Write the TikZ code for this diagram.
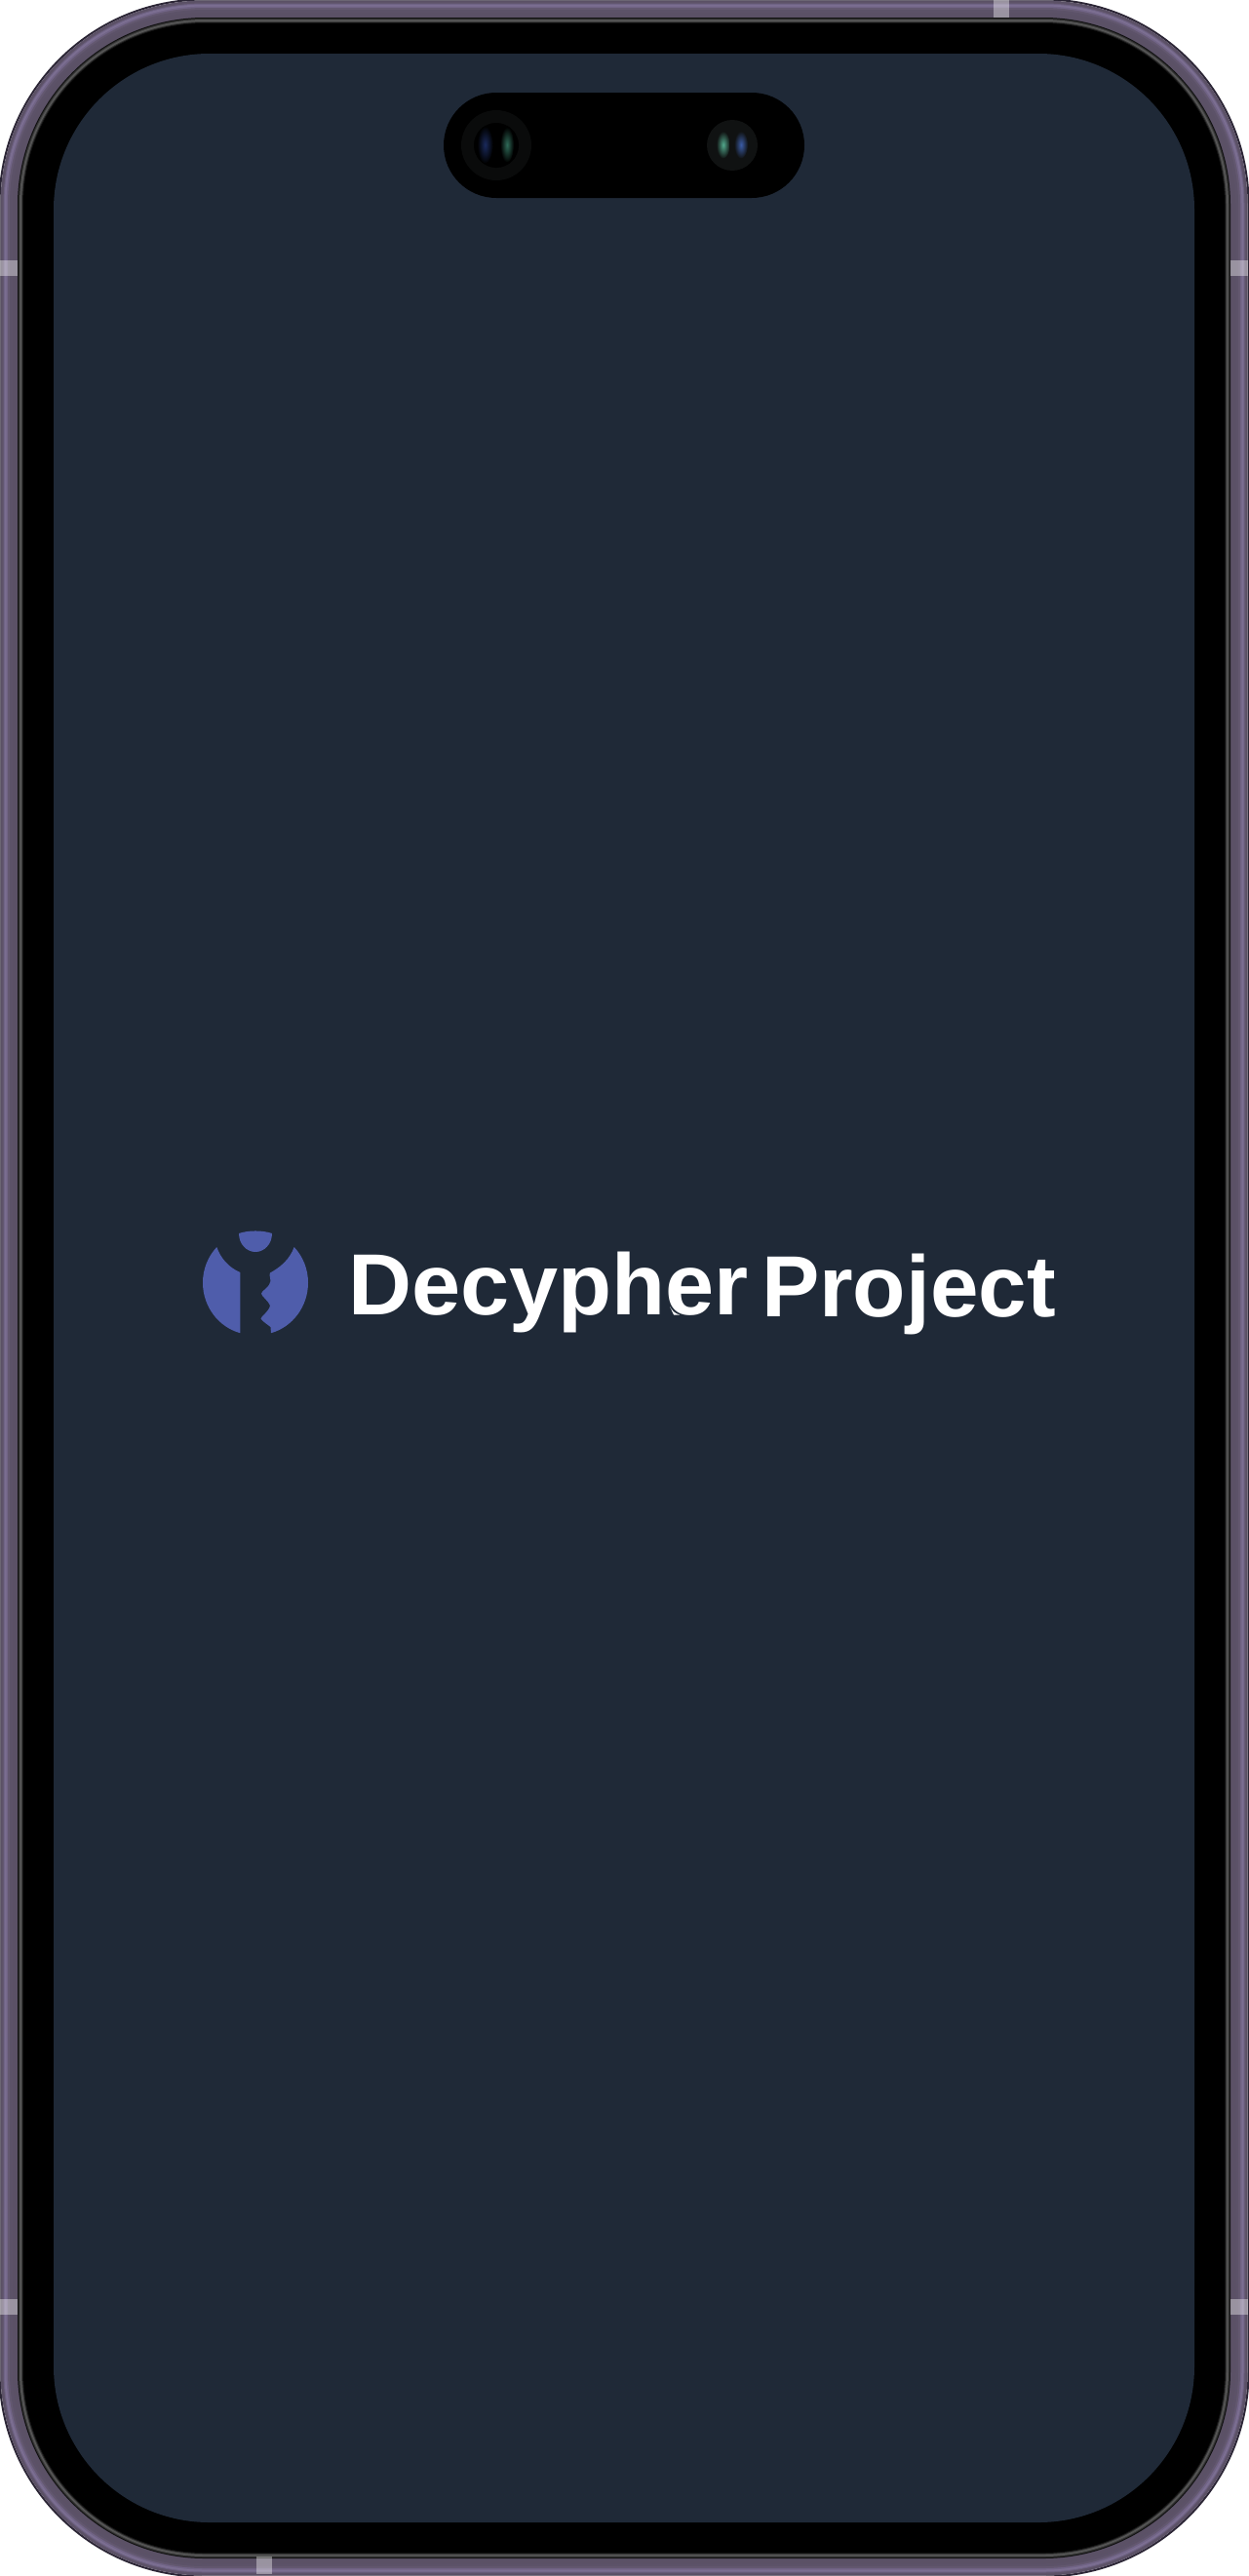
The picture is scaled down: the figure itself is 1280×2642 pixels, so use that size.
\documentclass[tikz,border=0pt]{standalone}
\usepackage{fontspec}
\setmainfont{Liberation Sans}
\definecolor{screenbg}{HTML}{1F2937}
\definecolor{logoblue}{HTML}{4F5DAB}
\definecolor{rimdark}{HTML}{2C2636}
\definecolor{camringa}{HTML}{0A0B0B}
\definecolor{camringb}{HTML}{101212}
\definecolor{gb}{HTML}{1A2A5C}
\definecolor{gg}{HTML}{2F6A58}
\definecolor{gg2}{HTML}{52A88C}
\definecolor{gb2}{HTML}{3B5CA6}
\newcommand{\phonerect}[2]{[rounded corners=#2pt] (#1,#1) rectangle ({1280-#1},{2642-#1})}
\tikzset{
  wordmark/.style={inner sep=0pt,outer sep=0pt,anchor=base west,text=white,font=\fontsize{89}{89}\selectfont\bfseries},
  sidebtn/.style={fill=white,fill opacity=.38,draw=none},
  glow/.style={draw=none}
}
\begin{document}
\begin{tikzpicture}[x=1pt,y=-1pt]
\useasboundingbox (0,0) rectangle (1280,2642);
\fill[white] (0,0) rectangle (1280,2642);
% frame rim
\draw[line width=2pt,draw=rimdark,fill=none] \phonerect{-0.5}{210};
\foreach \ins/\rad/\col in {
 0.5/209/5A5065,
 2/208/5E5369,
 3.5/206/6C6080,
 4.5/205/7A6D90,
 5.5/204/7D7093,
 6.5/203/716486,
 8/202/635870,
 10/200/5C5268,
 13/197/5B5166,
 18/192/111111,
 19/191/2E2E2E,
 20/190/4C4C4C,
 21/189/5A5A5A,
 22/188/3A3A3A,
 23/187/141414,
 24/186/000000}{
  \definecolor{ringc}{HTML}{\col}
  \fill[ringc] \phonerect{\ins}{\rad};
}
% screen
\fill[screenbg] \phonerect{55}{160};
% side buttons
\fill[sidebtn] (0,267) rectangle (18,283);
\fill[sidebtn] (1262,267) rectangle (1280,283);
\fill[sidebtn] (0,2358) rectangle (18,2374);
\fill[sidebtn] (1262,2358) rectangle (1280,2374);
\fill[sidebtn] (1019,0) rectangle (1035,18);
\fill[sidebtn] (263,2622) rectangle (279,2640);
% island
\fill[black,rounded corners=54pt] (455,95) rectangle (825,203);
% left camera
\fill[camringa] (509,149) circle[radius=36];
\fill[black] (509,149) circle[radius=23];
\shade[glow,inner color=gb,outer color=black] (497.5,148.5) ellipse[x radius=8,y radius=19];
\shade[glow,inner color=gg,outer color=black] (520,148.5) ellipse[x radius=7,y radius=18];
% right camera
\fill[camringb] (751,149) circle[radius=26];
\shade[glow,inner color=gg2,outer color=camringb] (741.7,148.5) ellipse[x radius=7,y radius=14];
\shade[glow,inner color=gb2,outer color=camringb] (760,148.5) ellipse[x radius=7,y radius=14];
% logo
\fill[logoblue] (222.3,1279) .. controls (213,1289) and (208,1302) .. (208,1315.5)
  .. controls (208,1340) and (224,1361) .. (246.3,1367.2) -- (246.3,1305)
  .. controls (235,1300) and (226.5,1291) .. (222.3,1279) -- cycle;
\fill[logoblue] (301.7,1279) .. controls (311,1289) and (316,1302) .. (316,1315.5)
  .. controls (316,1340) and (300,1361) .. (278,1367.2) -- (277.5,1361)
  .. controls (274,1358) and (270,1356) .. (267.5,1352.5)
  .. controls (267,1351) and (276,1345) .. (277,1339)
  .. controls (276,1335) and (268,1329) .. (268,1326.7)
  .. controls (268,1324) and (277,1320) .. (277.5,1314)
  .. controls (278,1311) and (275.5,1308) .. (277,1305.5)
  .. controls (287,1300) and (297,1292) .. (301.7,1279) -- cycle;
\fill[logoblue] (245,1265) .. controls (255,1261.6) and (269,1261.6) .. (279,1265)
  .. controls (279,1276) and (271,1284) .. (262,1284)
  .. controls (253,1284) and (245,1276) .. (245,1265) -- cycle;
% wordmark
\node[wordmark] (decypher) at (357.5,1348) {\scalebox{1.012}[1]{Decypher}};
\node[wordmark] (project) at (781,1350.5) {Project};
% small fleck beside the e
\fill[white] (687,1340) -- (691,1348.5) -- (697,1348.5) .. controls (692,1347) and (689,1344) .. (687,1340) -- cycle;
\end{tikzpicture}
\end{document}
